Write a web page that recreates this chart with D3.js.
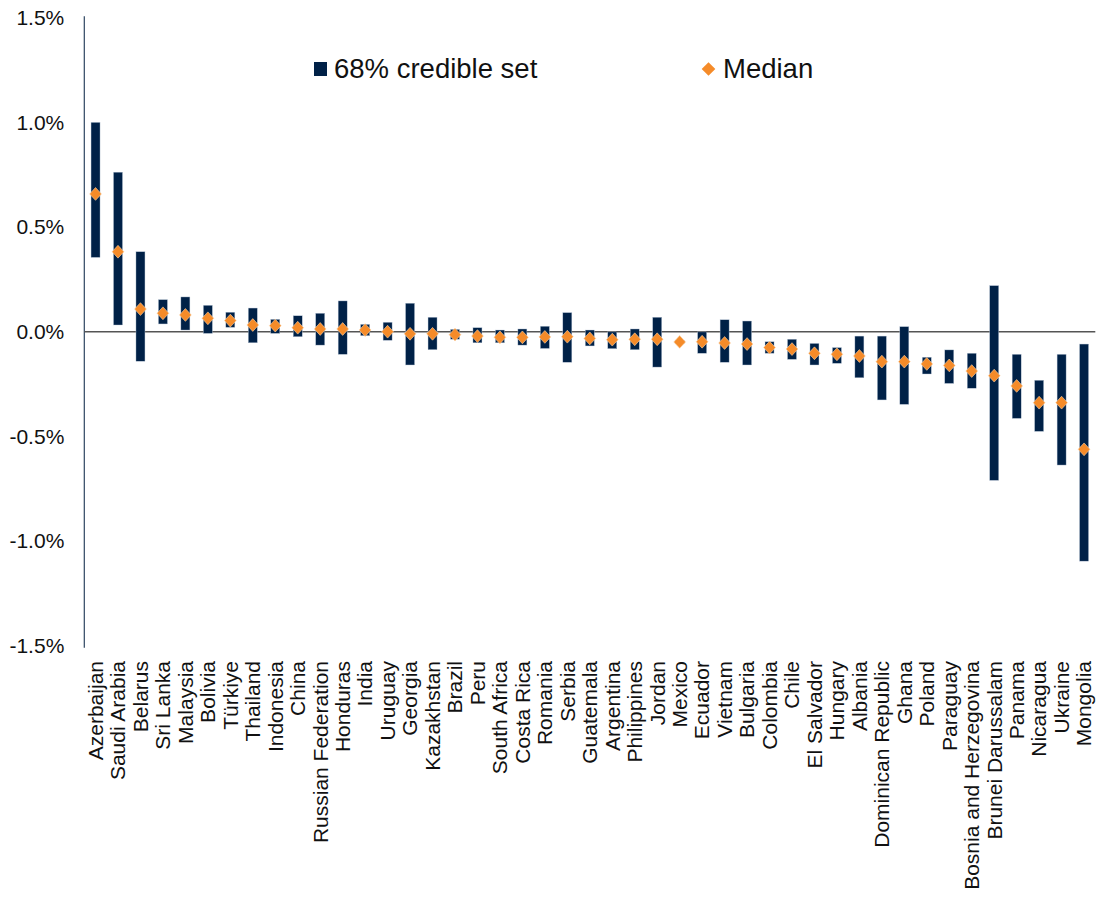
<!DOCTYPE html>
<html>
<head>
<meta charset="utf-8">
<script src="https://cdn.jsdelivr.net/npm/d3@7"></script>
<style>
  html, body { margin: 0; padding: 0; background: #ffffff; }
  svg { display: block; font-family: "Liberation Sans", Arial, Helvetica, sans-serif; }
</style>
</head>
<body>
<svg id="chart" width="1097" height="903"></svg>
<script>
const countries = ["Azerbaijan","Saudi Arabia","Belarus","Sri Lanka","Malaysia","Bolivia","Türkiye","Thailand","Indonesia","China","Russian Federation","Honduras","India","Uruguay","Georgia","Kazakhstan","Brazil","Peru","South Africa","Costa Rica","Romania","Serbia","Guatemala","Argentina","Philippines","Jordan","Mexico","Ecuador","Vietnam","Bulgaria","Colombia","Chile","El Salvador","Hungary","Albania","Dominican Republic","Ghana","Poland","Paraguay","Bosnia and Herzegovina","Brunei Darussalam","Panama","Nicaragua","Ukraine","Mongolia"];

// 68% credible set bounds (percent)
const upper = [1.00, 0.762, 0.382, 0.153, 0.166, 0.126, 0.093, 0.113, 0.059, 0.076, 0.088, 0.147, 0.035, 0.045, 0.136, 0.069, 0.011, 0.019, 0.008, 0.013, 0.026, 0.091, 0.008, -0.001, 0.013, 0.069, -0.042, -0.001, 0.057, 0.051, -0.048, -0.036, -0.056, -0.076, -0.021, -0.021, 0.024, -0.122, -0.087, -0.103, 0.220, -0.108, -0.232, -0.108, -0.059];
const lower = [0.355, 0.032, -0.141, 0.037, 0.008, -0.008, 0.021, -0.053, -0.008, -0.024, -0.064, -0.108, -0.019, -0.041, -0.159, -0.086, -0.036, -0.053, -0.053, -0.064, -0.080, -0.146, -0.068, -0.081, -0.086, -0.169, -0.056, -0.103, -0.146, -0.159, -0.103, -0.132, -0.159, -0.151, -0.220, -0.326, -0.347, -0.202, -0.247, -0.270, -0.710, -0.414, -0.476, -0.637, -1.096];
// Median (percent)
const median = [0.658, 0.382, 0.108, 0.088, 0.080, 0.064, 0.053, 0.032, 0.029, 0.019, 0.013, 0.013, 0.008, 0.000, -0.010, -0.010, -0.014, -0.021, -0.027, -0.027, -0.025, -0.024, -0.032, -0.038, -0.036, -0.036, -0.049, -0.048, -0.054, -0.059, -0.076, -0.083, -0.103, -0.108, -0.116, -0.143, -0.143, -0.154, -0.161, -0.188, -0.210, -0.259, -0.339, -0.339, -0.562];

const yTicks = [-1.5, -1.0, -0.5, 0.0, 0.5, 1.0, 1.5];
const legendLabels = ["68% credible set", "Median"];

const navy = "#002147";
const orange = "#F58B29";

const svg = d3.select("#chart");

const x = d3.scaleBand().domain(countries).range([84.3, 1095.3]).paddingInner(0.6).paddingOuter(0.3);
const y = d3.scaleLinear().domain([-1.5, 1.5]).range([645.7, 17.7]);

// y axis
const yAxis = d3.axisLeft(y).tickValues(yTicks).tickSize(0).tickPadding(20)
  .tickFormat(d => (d < 0 ? "-" : "") + Math.abs(d).toFixed(1) + "%");
const gy = svg.append("g").attr("transform", "translate(84.3,0)").call(yAxis);
gy.select(".domain").attr("stroke", "#2d4560").attr("stroke-width", 1.2).attr("d", `M0,${y(1.5) - 1.5}V${y(-1.5) + 2}`);
gy.selectAll(".tick text").attr("font-size", 21).attr("fill", "#111").attr("font-family", "'Liberation Sans', Arial, sans-serif");

// zero line
svg.append("line")
  .attr("x1", 84.3).attr("x2", 1095.3)
  .attr("y1", y(0)).attr("y2", y(0))
  .attr("stroke", "#555").attr("stroke-width", 1.4);

// bars
const bw = 9;
svg.append("g").selectAll("rect").data(countries).join("rect")
  .attr("x", d => x(d) + x.bandwidth() / 2 - bw / 2)
  .attr("width", bw)
  .attr("y", (d, i) => y(upper[i]))
  .attr("height", (d, i) => y(lower[i]) - y(upper[i]))
  .attr("fill", navy)
  .attr("stroke", "#b8c6d6").attr("stroke-width", 0.4);

// median diamonds
const diamond = "M0,-6.4L5.9,0L0,6.4L-5.9,0Z";
svg.append("g").selectAll("path").data(countries).join("path")
  .attr("d", diamond)
  .attr("transform", (d, i) => `translate(${x(d) + x.bandwidth() / 2},${y(median[i])})`)
  .attr("fill", orange)
  .attr("stroke", "#fbd3a8").attr("stroke-width", 0.6);

// x labels
const xAxis = d3.axisBottom(x).tickSize(0).tickPadding(0);
const gx = svg.append("g").attr("transform", "translate(0,661)").call(xAxis);
gx.select(".domain").remove();
gx.selectAll(".tick text")
  .attr("font-size", 21).attr("fill", "#111")
  .attr("font-family", "'Liberation Sans', Arial, sans-serif")
  .attr("text-anchor", "end")
  .attr("transform", "rotate(-90)")
  .attr("x", 0).attr("y", 0).attr("dy", "0.35em");

// legend
const lg = svg.append("g");
lg.append("rect").attr("x", 314).attr("y", 62).attr("width", 13).attr("height", 14).attr("fill", navy);
lg.append("text").attr("x", 334).attr("y", 78).attr("font-size", 27.5).attr("fill", "#111").text(legendLabels[0]);
lg.append("path").attr("d", "M0,-6.8L6.8,0L0,6.8L-6.8,0Z").attr("transform", "translate(708.5,69)").attr("fill", orange);
lg.append("text").attr("x", 723).attr("y", 78).attr("font-size", 27.5).attr("fill", "#111").text(legendLabels[1]);
</script>
</body>
</html>
